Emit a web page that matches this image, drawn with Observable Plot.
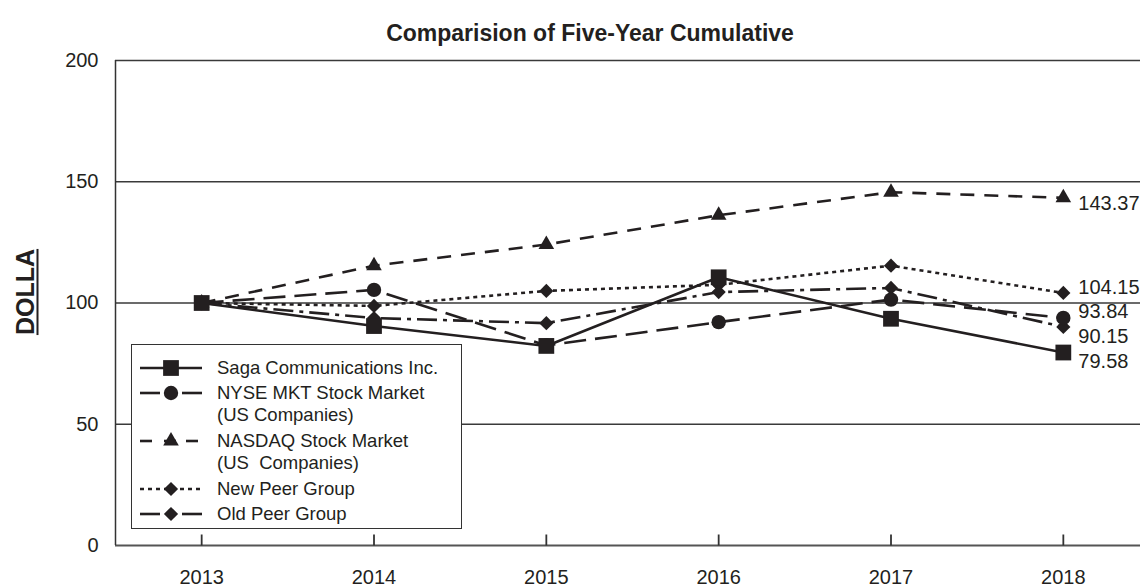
<!DOCTYPE html>
<html>
<head>
<meta charset="utf-8">
<script src="https://cdn.jsdelivr.net/npm/d3@7"></script>
<script src="https://cdn.jsdelivr.net/npm/@observablehq/plot@0.6"></script>
<style>
  html, body { margin: 0; padding: 0; background: #fff; }
  body { font-family: "Liberation Sans", Arial, Helvetica, sans-serif; color: #231f20; }
  #wrap { position: relative; width: 1140px; height: 588px; overflow: hidden; }
  #chart { position: absolute; left: 0; top: 0; width: 1140px; height: 588px; }
  #title { position: absolute; left: 590px; top: 19px; transform: translateX(-50%); font-weight: bold; font-size: 23px; line-height: 28px; white-space: nowrap; }
  #ylab { position: absolute; left: 25px; top: 292px; transform: translate(-50%, -50%) rotate(-90deg); font-weight: bold; font-size: 25px; text-decoration: underline; text-decoration-thickness: 2px; text-underline-offset: 3px; white-space: nowrap; }
  #legend { position: absolute; left: 131px; top: 344px; width: 329px; height: 183px; border: 1.5px solid #333; background: #fff; }
  .lrow { position: absolute; left: 85px; font-size: 18.5px; line-height: 22px; white-space: pre; transform: translateY(-50%); }
  .lsym { position: absolute; left: 6px; width: 66px; height: 24px; transform: translateY(-50%); overflow: visible; }
</style>
</head>
<body>
<div id="wrap">
  <div id="chart"></div>
  <div id="title"></div>
  <div id="ylab"></div>
  <div id="legend"></div>
</div>
<script>
// ---- data ----
const titleText = "Comparision of Five-Year Cumulative";
const yLabelText = "DOLLA";
const years = [2013, 2014, 2015, 2016, 2017, 2018];
const yTicks = [0, 50, 100, 150, 200];
const seriesNames = [
  "Saga Communications Inc.",
  "NYSE MKT Stock Market (US Companies)",
  "NASDAQ Stock Market (US  Companies)",
  "New Peer Group",
  "Old Peer Group"
];
const legendLines = [
  ["Saga Communications Inc."],
  ["NYSE MKT Stock Market", "(US Companies)"],
  ["NASDAQ Stock Market", "(US  Companies)"],
  ["New Peer Group"],
  ["Old Peer Group"]
];
const sagaValues    = [100, 90.5, 82.3, 110.6, 93.5, 79.58];
const nyseValues    = [100, 105.4, 82.5, 92.1, 101.4, 93.84];
const nasdaqValues  = [100, 115.4, 124.1, 136.2, 145.7, 143.37];
const newPeerValues = [100, 98.8, 105.0, 107.5, 115.4, 104.15];
const oldPeerValues = [100, 93.8, 91.7, 104.5, 106.2, 90.15];
const endLabels = ["79.58", "93.84", "143.37", "104.15", "90.15"];

const allValues = [sagaValues, nyseValues, nasdaqValues, newPeerValues, oldPeerValues];

// ---- styles (not data) ----
const ink = "#231f20";
const styles = [
  {dash: null,        symbol: "square",   d3sym: d3.symbolSquare,   r: 8.9, labelDy: 9},
  {dash: "22,9",      symbol: "circle",   d3sym: d3.symbolCircle,   r: 7.2, labelDy: -6},
  {dash: "14,10",     symbol: "triangle", d3sym: d3.symbolTriangle, r: 5.8, labelDy: 6},
  {dash: "4,4",       symbol: "diamond2", d3sym: d3.symbolDiamond2, r: 6.4, labelDy: -5},
  {dash: "20,6,4,6",  symbol: "diamond2", d3sym: d3.symbolDiamond2, r: 6.4, labelDy: 10}
];
const drawOrder = [2, 3, 4, 1, 0]; // markers drawn so Saga is on top
const tickUpSymbol = {draw(ctx) { ctx.moveTo(0, 0); ctx.lineTo(0, -11); }};

const rows = [];
seriesNames.forEach((s, si) => years.forEach((yr, i) => rows.push({series: s, si, year: yr, value: allValues[si][i]})));
const tickRows = years.map(yr => ({year: yr, base: 0}));

const marks = [
  Plot.ruleY([50, 100, 150, 200], {stroke: "#3a3a3a", strokeWidth: 1.3}),
  Plot.ruleY([0], {stroke: "#555", strokeWidth: 2}),
  Plot.ruleX([2012.5], {stroke: "#333", strokeWidth: 1.5}),
  Plot.dot(tickRows, {x: "year", y: "base", symbol: tickUpSymbol, r: 1, stroke: "#333", strokeWidth: 1.8, fill: "none"}),
  Plot.axisY({ticks: yTicks, tickSize: 0, tickPadding: 17, fontSize: 20, label: null, fill: ink}),
  Plot.axisX({ticks: years, tickSize: 0, tickPadding: 24, fontSize: 20, label: null, tickFormat: d => String(d), fill: ink})
];
seriesNames.forEach((s, si) => {
  marks.push(Plot.line(rows.filter(d => d.si === si), {
    x: "year", y: "value", stroke: ink, strokeWidth: 2.6,
    strokeDasharray: styles[si].dash || undefined, strokeLinecap: "butt"
  }));
});
drawOrder.forEach(si => {
  marks.push(Plot.dot(rows.filter(d => d.si === si), {
    x: "year", y: "value", symbol: styles[si].symbol, r: styles[si].r, fill: ink, stroke: "none"
  }));
});
seriesNames.forEach((s, si) => {
  marks.push(Plot.text([{year: years[years.length - 1], value: allValues[si][years.length - 1], label: endLabels[si]}], {
    x: "year", y: "value", text: "label", dx: 15, dy: styles[si].labelDy,
    textAnchor: "start", fontSize: 20, fill: ink
  }));
});

const chart = Plot.plot({
  width: 1140,
  height: 588,
  marginLeft: 115,
  marginRight: 0,
  marginTop: 60,
  marginBottom: 43,
  style: {fontFamily: '"Liberation Sans", Arial, sans-serif', background: "#fff", color: ink, overflow: "visible"},
  x: {type: "linear", domain: [2012.5, 2018.5], range: [115, 1149]},
  y: {domain: [0, 200], range: [545, 60]},
  marks
});
document.getElementById("chart").appendChild(chart);

document.getElementById("title").textContent = titleText;
document.getElementById("ylab").textContent = yLabelText;

// ---- legend ----
const legend = document.getElementById("legend");
const rowCenters = [[23], [48, 70], [96, 118], [144], [169]];
legendLines.forEach((lines, si) => {
  lines.forEach((t, li) => {
    const div = document.createElement("div");
    div.className = "lrow";
    div.style.top = rowCenters[si][li] + "px";
    div.textContent = t;
    legend.appendChild(div);
  });
  const svg = d3.create("svg").attr("class", "lsym").attr("width", 66).attr("height", 24)
    .style("top", rowCenters[si][0] + "px");
  const st = styles[si];
  if (si === 1 || si === 4) {
    svg.append("line").attr("x1", 2).attr("x2", 22).attr("y1", 12).attr("y2", 12).attr("stroke", ink).attr("stroke-width", 2.6);
    svg.append("line").attr("x1", 44).attr("x2", 64).attr("y1", 12).attr("y2", 12).attr("stroke", ink).attr("stroke-width", 2.6);
  } else if (si === 2) {
    [[2, 14], [26, 38], [48, 60]].forEach(([a, b]) =>
      svg.append("line").attr("x1", a).attr("x2", b).attr("y1", 12).attr("y2", 12).attr("stroke", ink).attr("stroke-width", 2.6));
  } else {
    const ln = svg.append("line").attr("x1", 2).attr("x2", 64).attr("y1", 12).attr("y2", 12).attr("stroke", ink).attr("stroke-width", 2.6);
    if (st.dash) ln.attr("stroke-dasharray", st.dash);
  }
  svg.append("path").attr("transform", "translate(33,12)")
    .attr("d", d3.symbol(st.d3sym, st.r * st.r * Math.PI)()).attr("fill", ink);
  legend.appendChild(svg.node());
});
</script>
</body>
</html>
